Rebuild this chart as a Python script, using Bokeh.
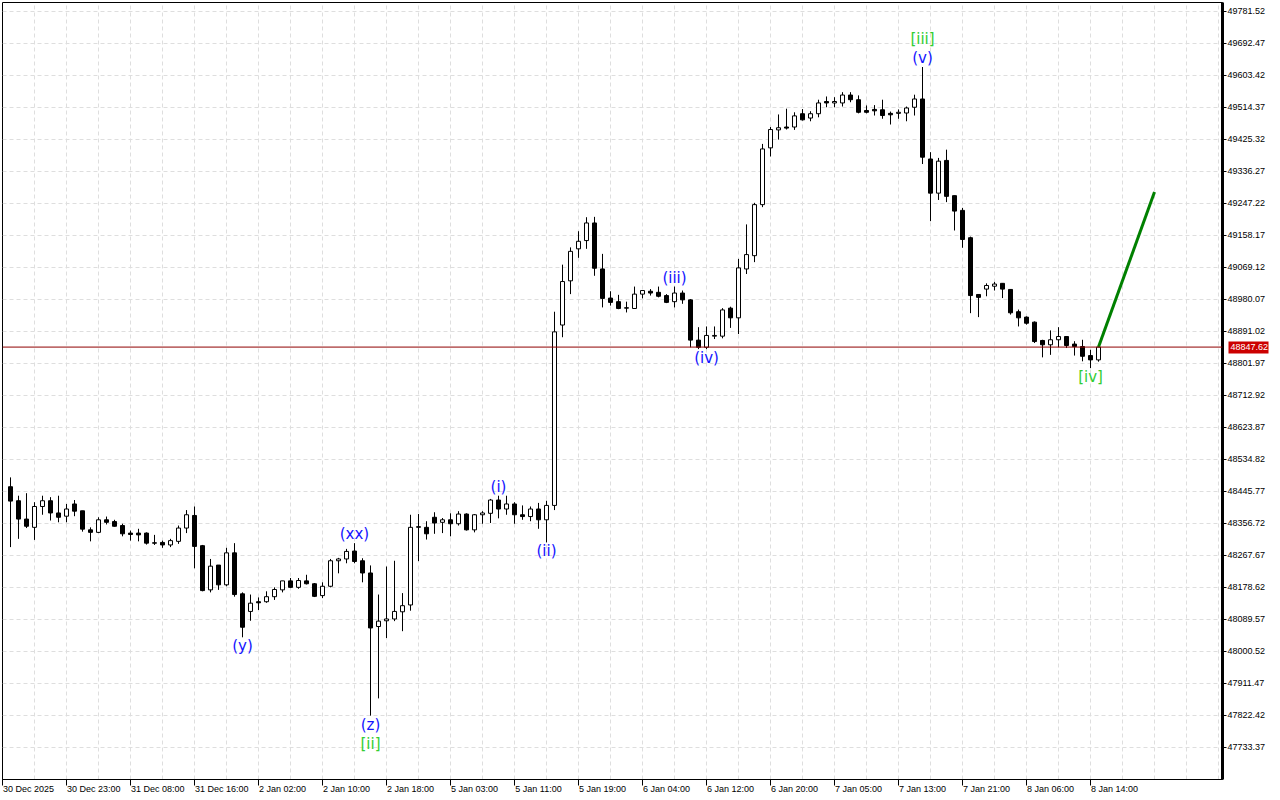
import numpy as np
from bokeh.plotting import figure
from bokeh.models import (Range1d, FixedTicker, PrintfTickFormatter, LinearAxis,
                          LabelSet, ColumnDataSource, Span)
from bokeh.core.properties import value
from bokeh.embed import file_html
from bokeh.resources import INLINE

# ---------------- data (hourly candles) ----------------
opens = [48459, 48420, 48369, 48346, 48404, 48420, 48386, 48377, 48411, 48392,
         48339, 48332, 48367, 48362, 48351, 48330, 48330, 48330, 48303, 48304,
         48297, 48307, 48344, 48379, 48295, 48172, 48241, 48186, 48275, 48161,
         48112, 48139, 48139, 48153, 48172, 48197, 48179, 48197, 48189, 48156,
         48182, 48253, 48258, 48280, 48253, 48219, 48070, 48086, 48091, 48111,
         48130, 48346, 48346, 48374, 48360, 48367, 48356, 48383, 48339, 48381,
         48385, 48422, 48397, 48411, 48381, 48376, 48397, 48367, 48407, 48909,
         49032, 49121, 49144, 49193, 49065, 48984, 48974, 48957, 48955, 48995,
         49003, 49000, 48991, 48974, 48998, 48979, 48867, 48847, 48878, 48878,
         48956, 48929, 49065, 49102, 49244, 49402, 49452, 49460, 49460, 49497,
         49485, 49497, 49531, 49527, 49527, 49549, 49536, 49506, 49509, 49508,
         49498, 49498, 49499, 49515, 49538, 49371, 49276, 49367, 49269, 49228,
         49152, 48994, 49009, 49017, 49025, 49008, 48946, 48931, 48917, 48866,
         48854, 48868, 48877, 48856, 48849, 48824, 48812]
highs = [48485, 48434, 48441, 48416, 48434, 48430, 48434, 48411, 48422, 48392,
         48346, 48374, 48376, 48367, 48356, 48337, 48342, 48332, 48325, 48309,
         48314, 48351, 48394, 48404, 48297, 48258, 48241, 48289, 48302, 48165,
         48159, 48151, 48168, 48179, 48197, 48205, 48205, 48214, 48191, 48193,
         48258, 48261, 48286, 48302, 48260, 48240, 48159, 48237, 48253, 48163,
         48381, 48383, 48363, 48388, 48372, 48385, 48391, 48385, 48383, 48391,
         48425, 48434, 48434, 48416, 48407, 48404, 48414, 48420, 48946, 49077,
         49125, 49170, 49209, 49210, 49107, 49003, 48993, 48974, 49016, 49005,
         49009, 49016, 48995, 49016, 49005, 48981, 48903, 48905, 48905, 48956,
         48960, 49093, 49189, 49249, 49413, 49460, 49495, 49511, 49501, 49510,
         49504, 49536, 49545, 49543, 49557, 49557, 49548, 49520, 49521, 49536,
         49503, 49509, 49517, 49550, 49627, 49390, 49374, 49397, 49269, 49235,
         49155, 48994, 49025, 49029, 49025, 49008, 48952, 48933, 48919, 48868,
         48894, 48903, 48877, 48864, 48868, 48840, 48849]
lows = [48291, 48314, 48344, 48311, 48381, 48365, 48360, 48360, 48377, 48334,
        48307, 48330, 48354, 48348, 48321, 48309, 48307, 48298, 48297, 48289,
        48291, 48300, 48330, 48232, 48168, 48165, 48172, 48182, 48153, 48040,
        48086, 48116, 48136, 48144, 48165, 48177, 48175, 48187, 48152, 48149,
        48179, 48218, 48246, 48246, 48193, 47822, 47870, 48038, 48085, 48057,
        48114, 48252, 48312, 48328, 48330, 48321, 48351, 48337, 48332, 48356,
        48358, 48371, 48381, 48356, 48367, 48363, 48342, 48304, 48394, 48875,
        48995, 49096, 49121, 49046, 48958, 48963, 48953, 48944, 48954, 48983,
        48991, 48986, 48970, 48958, 48968, 48847, 48842, 48842, 48870, 48872,
        48901, 48884, 49051, 49084, 49237, 49378, 49425, 49453, 49452, 49478,
        49476, 49487, 49515, 49515, 49517, 49529, 49498, 49498, 49492, 49483,
        49467, 49483, 49476, 49492, 49357, 49198, 49257, 49251, 49172, 49124,
        48942, 48931, 48989, 49005, 48984, 48938, 48905, 48910, 48859, 48819,
        48826, 48847, 48845, 48824, 48808, 48789, 48807]
closes = [48419, 48369, 48349, 48404, 48420, 48386, 48374, 48397, 48391, 48341,
          48332, 48367, 48360, 48349, 48328, 48326, 48325, 48302, 48302, 48297,
          48309, 48344, 48381, 48293, 48170, 48238, 48186, 48275, 48159, 48068,
          48135, 48136, 48153, 48173, 48197, 48179, 48198, 48189, 48154, 48182,
          48253, 48258, 48279, 48251, 48219, 48066, 48085, 48091, 48112, 48128,
          48346, 48348, 48328, 48358, 48367, 48356, 48383, 48339, 48381, 48386,
          48422, 48397, 48411, 48381, 48376, 48397, 48367, 48407, 48890, 49030,
          49114, 49142, 49193, 49067, 48983, 48972, 48955, 48956, 48995, 49005,
          48998, 48989, 48972, 48998, 48979, 48867, 48847, 48880, 48880, 48951,
          48929, 49068, 49105, 49244, 49399, 49453, 49458, 49457, 49491, 49480,
          49497, 49527, 49527, 49531, 49549, 49536, 49501, 49501, 49505, 49492,
          49494, 49501, 49513, 49538, 49376, 49276, 49365, 49267, 49226, 49147,
          48991, 48986, 49019, 49023, 49009, 48943, 48929, 48914, 48863, 48854,
          48868, 48877, 48852, 48849, 48822, 48812, 48847.62]

time_labels = ["30 Dec 2025", "30 Dec 23:00", "31 Dec 08:00", "31 Dec 16:00",
               "2 Jan 02:00", "2 Jan 10:00", "2 Jan 18:00", "5 Jan 03:00",
               "5 Jan 11:00", "5 Jan 19:00", "6 Jan 04:00", "6 Jan 12:00",
               "6 Jan 20:00", "7 Jan 05:00", "7 Jan 13:00", "7 Jan 21:00",
               "8 Jan 06:00", "8 Jan 14:00"]

price_ticks = [47733.37, 47822.42, 47911.47, 48000.52, 48089.57, 48178.62,
               48267.67, 48356.72, 48445.77, 48534.82, 48623.87, 48712.92,
               48801.97, 48891.02, 48980.07, 49069.12, 49158.17, 49247.22,
               49336.27, 49425.32, 49514.37, 49603.42, 49692.47, 49781.52]

last_price = 48847.62

proj_bars = [136, 143]
proj_prices = [48847.62, 49279.0]

wave_text = ["(y)", "(xx)", "(z)", "[ii]", "(i)", "(ii)", "(iii)", "(iv)",
             "(v)", "[iii]", "[iv]"]
wave_bar = [29, 43, 45, 45, 61, 67, 83, 87, 114, 114, 135]
wave_side = ["below", "above", "below", "below", "above", "below", "above",
             "below", "above", "above", "below"]

# ---------------- figure ----------------
n = len(opens)
idx = np.arange(n)
o = np.array(opens, dtype=float)
h = np.array(highs, dtype=float)
l = np.array(lows, dtype=float)
c = np.array(closes, dtype=float)
up = c >= o
dn = ~up

FONT = "Liberation Sans"
FS = 9            # px, axis text size
BAR_PX = 8        # px per bar (1220 px frame over 152.5 bars)

p = figure(frame_width=1220, frame_height=777,
           x_range=Range1d(-1.0, 151.5), y_range=Range1d(47644.3, 49806.5),
           y_axis_location="right", output_backend="svg", toolbar_location=None,
           min_border_left=2, min_border_top=2, min_border_bottom=21,
           min_border_right=0, background_fill_color="white",
           border_fill_color="white")
p.outline_line_color = "black"
p.outline_line_width = 1

# grids
p.xgrid.ticker = FixedTicker(ticks=list(range(-1, 152, 4)))
p.ygrid.ticker = FixedTicker(ticks=price_ticks)
for g in (p.xgrid, p.ygrid):
    g.grid_line_color = "#dedede"
    g.grid_line_dash = "4 3"
    g.grid_line_width = 1

# x axis: tick marks (as minor ticks) at the label bars, labels left-aligned
# to the right of each mark (placed at the label's centre as major ticks)
ARIAL_W = {**{d: 0.556 for d in "0123456789"}, " ": 0.278, ":": 0.278,
           "D": 0.722, "e": 0.556, "c": 0.5, "J": 0.5, "a": 0.556, "n": 0.556}
tick_bars = list(range(-1, -1 + 8 * len(time_labels), 8))
centres = []
for tb, txt in zip(tick_bars, time_labels):
    wpx = sum(ARIAL_W.get(ch, 0.556) for ch in txt) * FS
    centres.append(round(tb + (0.5 + wpx / 2.0) / BAR_PX, 4))
xa = p.xaxis[0]
xa.ticker = FixedTicker(ticks=centres, minor_ticks=tick_bars)
xa.major_label_overrides = {cx: t for cx, t in zip(centres, time_labels)}
xa.major_tick_out = 0
xa.major_tick_in = 0
xa.major_tick_line_color = None
xa.minor_tick_out = 6
xa.minor_tick_in = 0
xa.minor_tick_line_color = "black"
xa.axis_line_color = "black"
xa.major_label_standoff = -2
xa.major_label_text_font = FONT
xa.major_label_text_font_size = f"{FS}px"
xa.major_label_text_color = "black"

# y axis (right)
ya = p.yaxis[0]
ya.ticker = FixedTicker(ticks=price_ticks)
ya.formatter = PrintfTickFormatter(format="%.2f")
ya.axis_line_width = 3
ya.axis_line_color = "black"
ya.major_tick_out = 4
ya.major_tick_in = 0
ya.minor_tick_out = 0
ya.minor_tick_in = 0
ya.major_label_standoff = 1
ya.major_label_text_font = FONT
ya.major_label_text_font_size = f"{FS}px"
ya.major_label_text_color = "black"

# current-price tag: an outer right axis whose single tick is drawn inward
# as a thick red bar behind its white label
TAG_W = 40
tag = LinearAxis(ticker=FixedTicker(ticks=[last_price]),
                 formatter=PrintfTickFormatter(format="%.2f"))
tag.axis_line_color = None
tag.major_tick_in = TAG_W
tag.major_tick_out = 0
tag.major_tick_line_color = "#cc0000"
tag.major_tick_line_width = 12
tag.minor_tick_out = 0
tag.minor_tick_in = 0
tag.major_label_standoff = -TAG_W + 2
tag.major_label_text_font = FONT
tag.major_label_text_font_size = f"{FS}px"
tag.major_label_text_color = "white"
p.add_layout(tag, "right")

# candles
p.segment(x0=idx, y0=l, x1=idx, y1=h, line_color="black", line_width=1)
p.vbar(x=idx[up], top=c[up], bottom=o[up], width=0.5, fill_color="white",
       line_color="black", line_width=1)
p.vbar(x=idx[dn], top=o[dn], bottom=c[dn], width=0.5, fill_color="black",
       line_color="black", line_width=1)

# current price line
p.add_layout(Span(location=last_price, dimension="width",
                  line_color="#900000", line_width=1))

# projection
p.line(proj_bars, proj_prices, line_color="#008000", line_width=3)

# wave labels
seen = {}
rows = {"above": dict(x=[], y=[], text=[], color=[], off=[]),
        "below": dict(x=[], y=[], text=[], color=[], off=[])}
for t, b, s in zip(wave_text, wave_bar, wave_side):
    k = seen.get((b, s), 0)
    seen[(b, s)] = k + 1
    r = rows[s]
    r["x"].append(b)
    r["y"].append(h[b] if s == "above" else l[b])
    r["text"].append(t)
    r["color"].append("#32cd32" if t.startswith("[") else "#1414ff")
    r["off"].append(19 * k if s == "above" else -19 * k)
for s, base in (("above", "bottom"), ("below", "top")):
    src = ColumnDataSource(rows[s])
    p.add_layout(LabelSet(x="x", y="y", text="text", source=src,
                          y_offset="off", text_color="color",
                          text_align="center", text_baseline=base,
                          text_font=value("DejaVu Sans"),
                          text_font_size=value("15px")))

open("out.html", "w").write(file_html(p, INLINE))
